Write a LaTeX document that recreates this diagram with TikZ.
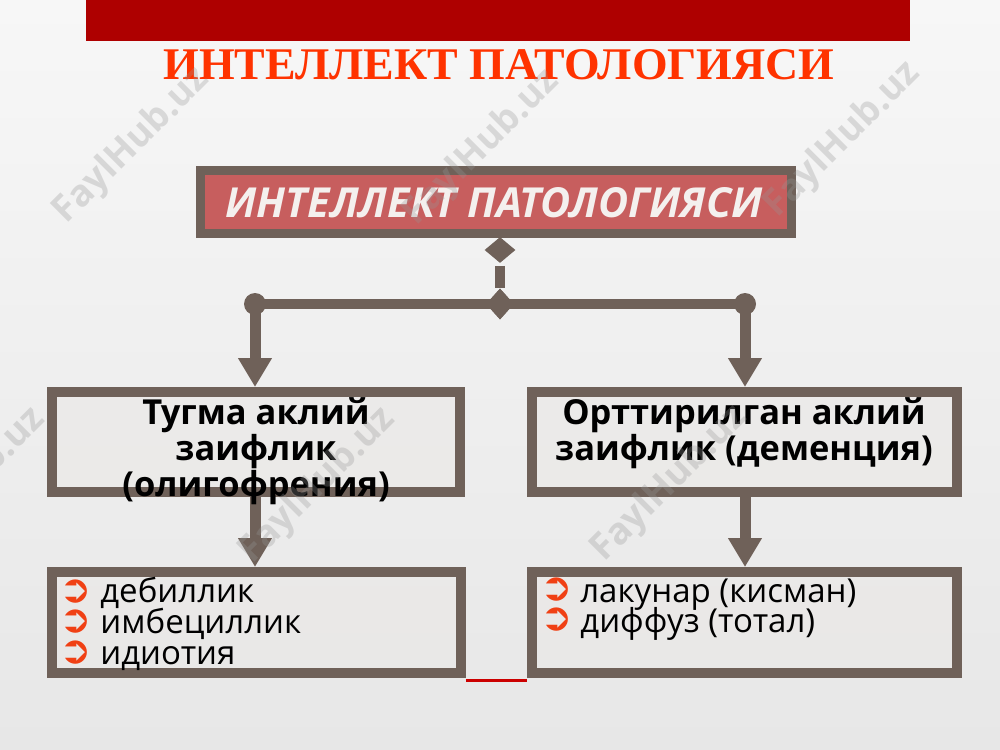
\documentclass[tikz,border=0pt]{standalone}
\usepackage{graphicx}
\usepackage{fontspec}
\usetikzlibrary{shapes.geometric,arrows.meta}
\setmainfont{Open Sans}
\newfontfamily\titlefont{Liberation Serif}
\newfontfamily\symfont{DejaVu Sans}
\definecolor{bgtop}{RGB}{247,247,247}
\definecolor{bgbot}{RGB}{231,231,231}
\definecolor{barred}{RGB}{174,0,0}
\definecolor{titlered}{RGB}{255,51,0}
\definecolor{brownb}{RGB}{111,97,89}
\definecolor{pinkred}{RGB}{199,94,94}
\definecolor{boxfill}{RGB}{234,232,230}
\definecolor{bulletred}{RGB}{240,64,20}
\definecolor{linered}{RGB}{204,0,0}
\definecolor{wmgray}{RGB}{150,150,150}
\tikzset{
  framebox/.style={draw=brownb, line width=0.2cm, fill=boxfill, fill opacity=0.6, draw opacity=1, inner sep=0pt},
  headbox/.style={draw=brownb, line width=0.18cm, fill=pinkred, inner sep=0pt},
  conn/.style={draw=brownb, line width=0.2cm},
  arrconn/.style={draw=brownb, line width=0.22cm, -{Triangle[width=0.64cm,length=0.58cm]}},
  joint/.style={diamond, fill=brownb, inner sep=0pt},
  dot/.style={circle, fill=brownb, inner sep=0pt, minimum size=0.44cm},
  midtext/.style={anchor=north, inner sep=0pt, align=center, font=\bfseries\fontsize{19.6pt}{18.7pt}\selectfont},
  itemtext/.style={anchor=base west, inner sep=0pt, font=\fontsize{18.8pt}{18pt}\selectfont},
  bul/.style={inner sep=0pt, text=bulletred, font=\symfont\fontsize{22pt}{22pt}\selectfont},
  wm/.style={rotate=45, inner sep=0pt, text=wmgray, text opacity=0.3, font=\bfseries\fontsize{21pt}{21pt}\selectfont}
}
\begin{document}
\begin{tikzpicture}[x=0.02cm,y=-0.02cm]
\useasboundingbox (0,0) rectangle (1000,750);
\fill[top color=bgtop, bottom color=bgbot] (0,0) rectangle (1000,750);
% top bar and title
\fill[barred] (86,0) rectangle (910,41);
\node[anchor=base, inner sep=0pt, text=titlered] (title) at (499,80)
  {\resizebox{13.42cm}{0.6cm}{\titlefont\bfseries ИНТЕЛЛЕКТ ПАТОЛОГИЯСИ}};
% head box
\node[headbox, minimum width=11.82cm, minimum height=1.26cm] (head) at (496,202) {};
\node[inner sep=0pt, text={rgb,255:red,244;green,240;blue,238}] (headtxt) at (494,203)
  {\resizebox{10.74cm}{!}{\bfseries\itshape ИНТЕЛЛЕКТ ПАТОЛОГИЯСИ}};
% joints
\node[joint, minimum width=0.62cm, minimum height=0.52cm] (d1) at (500,250) {};
\node[joint, minimum width=0.56cm, minimum height=0.62cm] (d2) at (500,304) {};
\coordinate (jl) at (255,304);
\coordinate (jr) at (745,304);
% bottom boxes and the red line between them
\node[framebox, minimum width=8.18cm, minimum height=2.02cm] (bot1) at (256.5,622.5) {};
\node[framebox, minimum width=8.5cm, minimum height=2.02cm] (bot2) at (744.5,622.5) {};
\draw[linered, line width=0.06cm] ([yshift=-0.06cm]bot1.south east) -- ([yshift=-0.06cm]bot2.south west);
% middle boxes
\node[framebox, minimum width=8.16cm, minimum height=2.0cm] (mid1) at (256,442) {};
\node[framebox, minimum width=8.5cm, minimum height=2.0cm] (mid2) at (744.5,442) {};
% connectors
\draw[conn] ([yshift=-0.05cm]d1.south) -- (d2.north);
\draw[conn] (jl) -- (jr);
\node[dot] (dl) at (jl) {};
\node[dot] (dr) at (jr) {};
\node[joint, minimum width=0.56cm, minimum height=0.62cm] at (d2) {};
\draw[arrconn] (dl.center) -- (dl.center |- mid1.north);
\draw[arrconn] (dr.center) -- (dr.center |- mid2.north);
\draw[arrconn] (mid1.south -| dl.center) -- (bot1.north -| dl.center);
\draw[arrconn] (mid2.south -| dr.center) -- (bot2.north -| dr.center);
% middle texts
\node[midtext] (t1) at (256,397) {Тугма аклий\\заифлик\\(олигофрения)};
\node[midtext] (t2) at (744,397) {Орттирилган аклий\\заифлик (деменция)};
% bottom items
\node[bul] (b1) at (76,592) {➲};
\node[bul] (b2) at (76,622) {➲};
\node[bul] (b3) at (76,653) {➲};
\node[itemtext] (i1) at (100,602) {дебиллик};
\node[itemtext] (i2) at (100,633) {имбециллик};
\node[itemtext] (i3) at (100,664) {идиотия};
\node[bul] (b4) at (557,590) {➲};
\node[bul] (b5) at (557,620) {➲};
\node[itemtext] (i4) at (580,602) {лакунар (кисман)};
\node[itemtext] (i5) at (580,632) {диффуз (тотал)};
% watermarks
\node[wm] (w1) at (132,146) {FaylHub.uz};
\node[wm] (w2) at (482,148) {FaylHub.uz};
\node[wm] (w3) at (843,140) {FaylHub.uz};
\node[wm] (w4) at (-32,486) {FaylHub.uz};
\node[wm] (w5) at (318,486) {FaylHub.uz};
\node[wm] (w6) at (670,484) {FaylHub.uz};
\end{tikzpicture}
\end{document}
